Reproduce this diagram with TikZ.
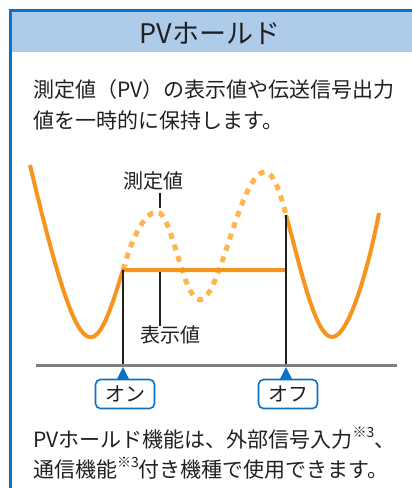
\documentclass[tikz,border=0pt]{standalone}
\usepackage{fontspec}
\setmainfont{Noto Sans CJK JP}
\usepackage{tikz}
\definecolor{frameblue}{HTML}{0A72C4}
\definecolor{headblue}{HTML}{AECBEA}
\definecolor{pvorange}{HTML}{F7941D}
\definecolor{pvlight}{HTML}{FDB550}
\definecolor{axisgray}{HTML}{7F7F7F}
\definecolor{inkgray}{HTML}{231F20}
\newcommand{\noteref}{\raisebox{0.5em}{\fontsize{14}{14}\selectfont ※3}}

\begin{document}
\begin{tikzpicture}[x=1pt,y=-1pt,
    txt/.style={text=inkgray, inner sep=0pt, font=\fontsize{20}{20}\selectfont},
    holdline/.style={pvorange, line width=4pt, line join=round},
    measline/.style={pvlight, line width=5pt, dash pattern=on 6pt off 6pt},
    tagbox/.style={draw=frameblue, fill=white, line width=1.6pt, rounded corners=5pt,
        minimum width=59pt, minimum height=29pt, inner sep=0pt, text=inkgray,
        font=\fontsize{20}{20}\selectfont}]
        \useasboundingbox (0,0) rectangle (412,488);
        % frame and title
        \fill[headblue] (12,12) rectangle (412,52);
        \draw[frameblue, line width=3pt] (10.5,488) -- (10.5,10.5) -- (412,10.5);
        \node[txt, font=\fontsize{27}{27}\selectfont] (title) at (210,33) {PVホールド};
        \node[txt, anchor=west, font=\fontsize{21}{21}\selectfont] (desca) at (33,90) {測定値（PV）の表示値や伝送信号出力};
        \node[txt, anchor=west, font=\fontsize{21}{21}\selectfont] (descb) at (33,120) {値を一時的に保持します。};
        % measured value (dashed while held)
        \draw[measline] (123,270) .. controls (133,235) and (145,212) .. (157,212)
            .. controls (172,212) and (183,300) .. (200,300)
            .. controls (220,300) and (240,172) .. (265,172)
            .. controls (275,172) and (282,200) .. (286,215);
        % displayed value
        \draw[holdline] (30,165) .. controls (62,300) and (78,340) .. (92,337)
            .. controls (104,335) and (115,295) .. (123,270) -- (286,270);
        \draw[holdline] (286,215) .. controls (300,265) and (315,337) .. (332,337)
            .. controls (350,337) and (370,260) .. (379,213);
        % labels
        \node[txt] (meas) at (153,181) {測定値};
        \coordinate (measpt) at (160,208);
        \draw[inkgray, line width=1.3pt] (measpt |- meas.south) ++(0,3) -- (measpt);
        \node[txt] (disp) at (170,335) {表示値};
        \coordinate (disppt) at (160,272);
        \draw[inkgray, line width=1.3pt] (disppt) -- (disppt |- disp.north) ++(0,-2);
        % time axis
        \coordinate (axl) at (36,365);
        \coordinate (axr) at (397,365);
        \foreach \x/\y/\lab/\nm in {123/270/オン/on, 286/215/オフ/off}{
            \coordinate (\nm top) at (\x,\y);
            \coordinate (\nm ax) at (\x,365);
            \draw[inkgray, line width=1.3pt] (\nm top) -- (\nm ax);
            \node[tagbox] (\nm) at (\x+2,394) {\lab};
            \fill[frameblue] (\x,367) -- (\x+6,379) -- (\x-6,379) -- cycle;
        }
        \draw[axisgray, line width=3pt] (axl) -- (axr);
        % note
        \node[txt, anchor=west, font=\fontsize{21}{21}\selectfont] (notea) at (33,438) {PVホールド機能は、外部信号入力\noteref、};
        \node[txt, anchor=west, font=\fontsize{21}{21}\selectfont] (noteb) at (33,468) {通信機能\noteref 付き機種で使用できます。};
\end{tikzpicture}
\end{document}
